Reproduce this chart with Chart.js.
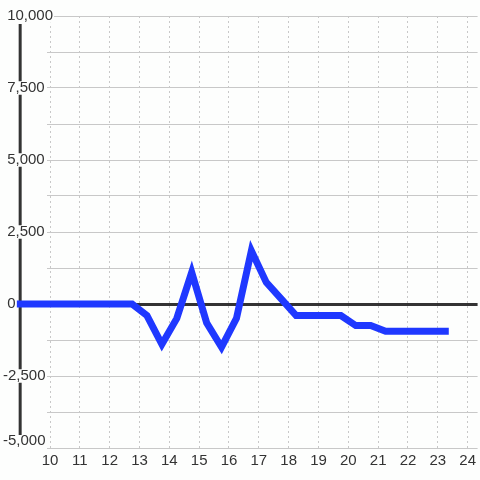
<!DOCTYPE html>
<html>
<head>
<meta charset="utf-8">
<script src="https://cdn.jsdelivr.net/npm/chart.js@4.4.1/dist/chart.umd.min.js"></script>
<style>
  html, body { margin: 0; padding: 0; background: #fdfefd; }
  #chart { display: block; }
</style>
</head>
<body>
<canvas id="chart" width="480" height="480"></canvas>
<script>
// ---------------------------
// Data
// ---------------------------
const xValues = [9, 10.25, 10.75, 11.25, 11.75, 12.25, 12.75, 13.25, 13.75,
                 14.25, 14.75, 15.25, 15.75, 16.25, 16.75, 17.25, 17.75, 18.25, 18.75,
                 19.25, 19.75, 20.25, 20.75, 21.25, 21.75, 22.25, 22.75, 23.25];
const yValues = [0, 0, 0, 0, 0, 0, 0, -400, -1400,
                 -500, 1100, -650, -1500, -500, 1850, 750, 180, -400, -400,
                 -400, -400, -750, -750, -950, -950, -950, -950, -950];

const xTicks = [10, 11, 12, 13, 14, 15, 16, 17, 18, 19, 20, 21, 22, 23, 24];
const xMin = 10;
const xMax = 24.333;

const yTicks = [-5000, -3750, -2500, -1250, 0, 1250, 2500, 3750, 5000, 6250, 7500, 8750, 10000];
const yTickLabels = ['-5,000', '', '-2,500', '', '0', '', '2,500', '', '5,000', '', '7,500', '', '10,000'];
const yMin = -5000;
const yMax = 10000;

// position of the vertical axis line (x value)
const axisLineX = 9;

// ---------------------------
// Styles
// ---------------------------
const BG = "#fdfefd";
const LINE_BLUE = "#1f38ff";
const DARK = "#333333";
const GRID = "#c8c8c8";
const FONT = "'Liberation Sans', Arial, sans-serif";

const points = xValues.map((x, i) => ({ x: x, y: yValues[i] }));

const ctx = document.getElementById("chart").getContext("2d");

new Chart(ctx, {
    type: "line",
    data: {
        datasets: [
            {
                data: points,
                borderColor: LINE_BLUE,
                borderWidth: 7,
                borderCapStyle: "square",
                pointRadius: 0,
                tension: 0,
                fill: false,
                clip: false
            },
            {
                // vertical axis line
                data: [{ x: axisLineX, y: yMin }, { x: axisLineX, y: yMax }],
                borderColor: DARK,
                borderWidth: 3,
                pointRadius: 0,
                fill: false,
                clip: { left: 50, right: 0, top: -8, bottom: -13 }
            }
        ]
    },
    options: {
        responsive: false,
        animation: false,
        devicePixelRatio: 1,
        layout: { padding: { left: 3, top: 16, right: 0, bottom: 0 } },
        plugins: {
            legend: { display: false },
            tooltip: { enabled: false }
        },
        scales: {
            x: {
                type: "linear",
                min: xMin,
                max: xMax,
                afterBuildTicks: scale => {
                    scale.ticks = xTicks.map(v => ({ value: v }));
                },
                afterFit: scale => { scale.height = 32; },
                grid: {
                    color: GRID,
                    lineWidth: 1,
                    drawTicks: false,
                    z: -2
                },
                border: { display: false, dash: [2, 3] },
                ticks: {
                    autoSkip: false,
                    maxRotation: 0,
                    padding: 4,
                    color: DARK,
                    font: { family: FONT, size: 15 },
                    z: 2,
                    callback: v => String(v)
                }
            },
            y: {
                type: "linear",
                min: yMin,
                max: yMax,
                afterBuildTicks: scale => {
                    scale.ticks = yTicks.map(v => ({ value: v }));
                },
                afterFit: scale => { scale.width = 47; },
                grid: {
                    color: c => (c.tick && c.tick.value === 0 ? DARK : GRID),
                    lineWidth: c => (c.tick && c.tick.value === 0 ? 3 : 1),
                    drawTicks: true,
                    tickLength: 3,
                    z: -1
                },
                border: { display: false },
                ticks: {
                    autoSkip: false,
                    mirror: true,
                    padding: -47,
                    crossAlign: "near",
                    color: DARK,
                    font: { family: FONT, size: 15, lineHeight: 0.9 },
                    showLabelBackdrop: c => c.index !== 0,
                    backdropColor: BG,
                    backdropPadding: { top: 0, bottom: 0, left: 0, right: 1 },
                    z: 1,
                    callback: (value, index) => {
                        const lab = yTickLabels[index];
                        if (!lab) return "";
                        const txt = lab.startsWith("-") ? lab : " " + lab;
                        return index === 0 ? [txt, ""] : txt;
                    }
                }
            }
        }
    }
});
</script>
</body>
</html>
